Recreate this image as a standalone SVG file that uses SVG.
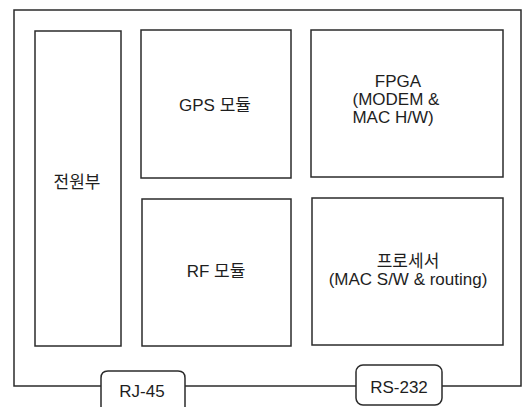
<svg xmlns="http://www.w3.org/2000/svg" width="524" height="407" viewBox="0 0 524 407">
<style>
.ln{fill:none;stroke:#2b2b2b;stroke-width:1.5}
.box{fill:#fff;stroke:#2b2b2b;stroke-width:1.5}
text{font-family:"Liberation Sans","Noto Sans CJK KR",sans-serif;font-size:17px;fill:#1e1e1e;text-anchor:middle}
</style>
<rect width="524" height="407" fill="#fff"/>
<g id="connectors">
<path class="ln" d="M101,386 H14 V10 H521 V386 H442"/>
<path class="ln" d="M185,386 H356"/>
</g>
<g id="power"><rect class="box" x="35" y="31" width="86" height="315"/><text x="77" y="188">전원부</text></g>
<g id="gps"><rect class="box" x="141" y="30" width="150" height="148"/><text x="215" y="111">GPS 모듈</text></g>
<g id="rf"><rect class="box" x="142" y="199" width="149" height="147"/><text x="216" y="277">RF 모듈</text></g>
<g id="fpga"><rect class="box" x="311" y="30" width="192" height="147"/>
<text x="398" y="87">FPGA</text>
<text x="396" y="105">(MODEM &amp;</text>
<text x="393" y="123">MAC H/W)</text></g>
<g id="proc"><rect class="box" x="312" y="198" width="191" height="147"/>
<text x="408" y="267">프로세서</text>
<text x="408" y="285">(MAC S/W &amp; routing)</text></g>
<g id="rj45"><path class="box" d="M101,407 V378 Q101,371 108,371 H178 Q185,371 185,378 V407"/><text x="142" y="397">RJ-45</text></g>
<g id="rs232"><rect class="box" x="356" y="365" width="86" height="40" rx="7"/><text x="399" y="393">RS-232</text></g>
</svg>
